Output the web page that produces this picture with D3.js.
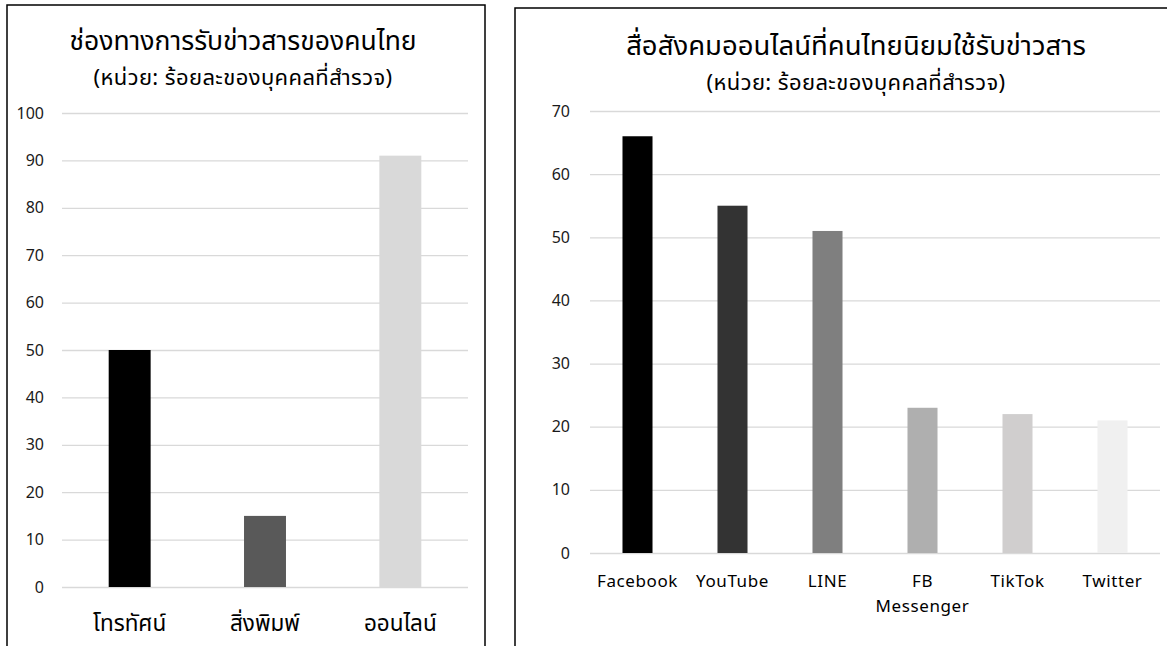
<!DOCTYPE html>
<html>
<head>
<meta charset="utf-8">
<script src="https://cdn.jsdelivr.net/npm/d3@7.9.0/dist/d3.min.js"></script>
<style>
  body { margin: 0; background: #fff; }
  svg { display: block; font-family: "Noto Sans Thai", "Noto Sans", "DejaVu Sans", sans-serif; }
</style>
</head>
<body>
<svg id="chart" width="1167" height="646"></svg>
<script>
// left chart: news channels
const channelNames = ["โทรทัศน์", "สิ่งพิมพ์", "ออนไลน์"];
const channelValues = [50, 15, 91];
const channelColors = ["#000000", "#595959", "#d9d9d9"];
const channelTicks = [0, 10, 20, 30, 40, 50, 60, 70, 80, 90, 100];

// right chart: social media
const socialNames = ["Facebook", "YouTube", "LINE", "FB\nMessenger", "TikTok", "Twitter"];
const socialValues = [66, 55, 51, 23, 22, 21];
const socialColors = ["#000000", "#333333", "#7f7f7f", "#afafaf", "#d0cece", "#f0f0f0"];
const socialTicks = [0, 10, 20, 30, 40, 50, 60, 70];

const titles = ["ช่องทางการรับข่าวสารของคนไทย", "สื่อสังคมออนไลน์ที่คนไทยนิยมใช้รับข่าวสาร"];
const subtitle = "(หน่วย: ร้อยละของบุคคลที่สำรวจ)";
const fontStack = '"Noto Sans Thai", "Noto Sans", "DejaVu Sans", sans-serif';

const svg = d3.select("#chart");

// panel frames
svg.append("rect").attr("x", 7).attr("y", 5).attr("width", 478).attr("height", 700)
  .attr("fill", "none").attr("stroke", "#000").attr("stroke-width", 1.5);
svg.append("rect").attr("x", 515).attr("y", 8).attr("width", 700).attr("height", 700)
  .attr("fill", "none").attr("stroke", "#000").attr("stroke-width", 1.5);

function drawChart(opts) {
  const x = d3.scaleBand()
    .domain(opts.names)
    .range([opts.left, opts.right])
    .paddingInner(opts.pad)
    .paddingOuter(opts.pad / 2);

  const y = d3.scaleLinear()
    .domain([0, d3.max(opts.ticks)])
    .range([opts.bottom, opts.top]);

  // gridlines + labels
  const axis = svg.append("g")
    .attr("transform", `translate(${opts.left},0)`)
    .call(d3.axisLeft(y).tickValues(opts.ticks).tickSize(-(opts.right - opts.left)).tickPadding(opts.tickPad));
  axis.attr("font-family", fontStack);
  axis.select(".domain").remove();
  axis.selectAll(".tick line").attr("stroke", "#d9d9d9").attr("stroke-width", 1.3);
  axis.selectAll(".tick text").attr("fill", "#1a1a1a").attr("font-size", "16px");

  svg.append("g").selectAll("rect")
    .data(opts.names)
    .join("rect")
    .attr("x", d => x(d))
    .attr("y", (d, i) => y(opts.values[i]))
    .attr("width", x.bandwidth())
    .attr("height", (d, i) => y(0) - y(opts.values[i]))
    .attr("fill", (d, i) => opts.colors[i]);

  // category labels
  svg.append("g").selectAll("text")
    .data(opts.names)
    .join("text")
    .attr("x", d => x(d) + x.bandwidth() / 2)
    .attr("y", opts.labelY)
    .attr("text-anchor", "middle")
    .attr("font-size", opts.labelSize)
    .attr("letter-spacing", opts.labelSpacing)
    .attr("fill", "#000")
    .each(function (d) {
      const lines = d.split("\n");
      d3.select(this).selectAll("tspan")
        .data(lines)
        .join("tspan")
        .attr("x", x(d) + x.bandwidth() / 2)
        .attr("dy", (l, j) => j === 0 ? 0 : opts.lineGap)
        .text(l => l);
    });

  svg.append("text")
    .attr("x", opts.titleX).attr("y", opts.titleY)
    .attr("text-anchor", "middle").attr("font-size", opts.titleSize).attr("fill", "#000")
    .text(opts.title);
  svg.append("text")
    .attr("x", opts.titleX).attr("y", opts.titleY + 35)
    .attr("text-anchor", "middle").attr("font-size", "22px").attr("fill", "#000")
    .attr("letter-spacing", "0.4px")
    .text(subtitle);
}

drawChart({
  names: channelNames, values: channelValues, colors: channelColors, ticks: channelTicks,
  left: 62, right: 468, top: 113, bottom: 587, pad: 0.69, tickPad: 18,
  labelY: 631, labelSize: "22.5px", labelSpacing: "0px", lineGap: 24,
  title: titles[0], titleSize: "26.5px", titleX: 243, titleY: 50
});

drawChart({
  names: socialNames, values: socialValues, colors: socialColors, ticks: socialTicks,
  left: 590, right: 1160, top: 111, bottom: 553, pad: 0.684, tickPad: 20,
  labelY: 587, labelSize: "17px", labelSpacing: "0.6px", lineGap: 25,
  title: titles[1], titleSize: "27.5px", titleX: 856, titleY: 55
});
</script>
</body>
</html>
